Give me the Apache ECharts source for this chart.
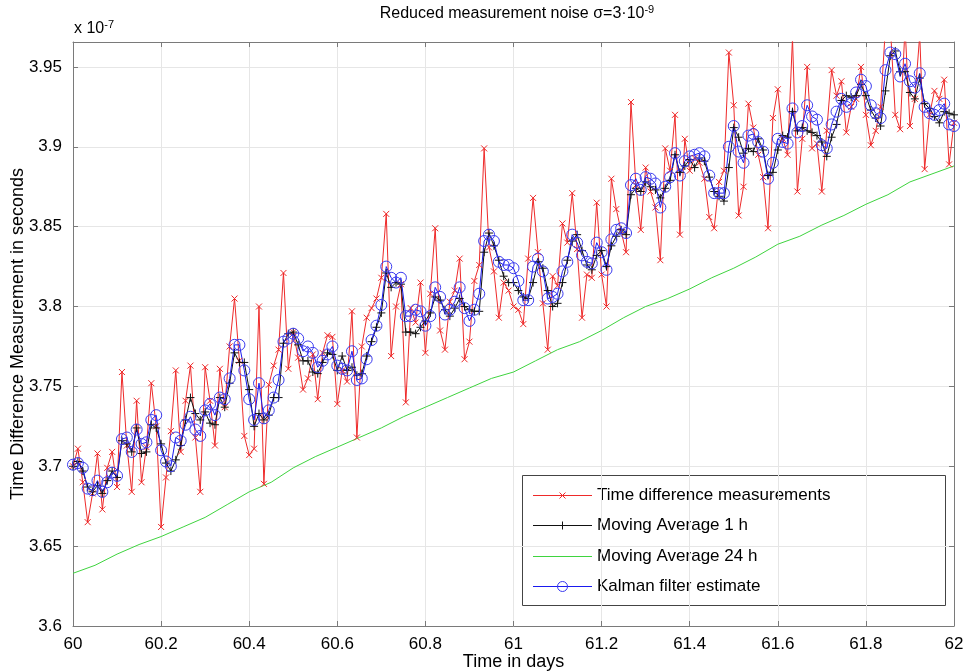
<!DOCTYPE html>
<html>
<head>
<meta charset="utf-8">
<script src="https://cdn.jsdelivr.net/npm/echarts@6/dist/echarts.min.js"></script>
<style>
html, body { margin: 0; padding: 0; background: #ffffff; }
#chart { width: 965px; height: 672px; }
</style>
</head>
<body>
<div id="chart"></div>
<script>
// Sampling grid of the 1-hour series: one sample every 16 minutes (1/90 day), day 60 to day 62
const T_START = 60;
const T_STEP = 1 / 90;

// Time difference measurements, in units of 1e-7 s
const measured = [
  3.700, 3.711, 3.690, 3.665, 3.683, 3.708, 3.673, 3.699, 3.709, 3.687,
  3.759, 3.713, 3.684, 3.741, 3.690, 3.712, 3.752, 3.725, 3.662, 3.693,
  3.722, 3.760, 3.709, 3.741, 3.763, 3.718, 3.684, 3.762, 3.741, 3.713,
  3.761, 3.737, 3.775, 3.805, 3.766, 3.719, 3.707, 3.711, 3.800, 3.689,
  3.751, 3.763, 3.773, 3.821, 3.761, 3.784, 3.768, 3.748, 3.755, 3.770,
  3.742, 3.771, 3.782, 3.781, 3.739, 3.760, 3.753, 3.797, 3.718, 3.775,
  3.793, 3.799, 3.805, 3.818, 3.858, 3.769, 3.800, 3.814, 3.740, 3.799,
  3.790, 3.815, 3.771, 3.808, 3.849, 3.785, 3.773, 3.803, 3.810, 3.830,
  3.767, 3.778, 3.816, 3.826, 3.899, 3.837, 3.822, 3.793, 3.815, 3.810,
  3.800, 3.798, 3.789, 3.830, 3.868, 3.834, 3.802, 3.773, 3.819, 3.813,
  3.852, 3.840, 3.871, 3.836, 3.793, 3.820, 3.818, 3.865, 3.820, 3.800,
  3.880, 3.861, 3.847, 3.834, 3.928, 3.876, 3.848, 3.887, 3.872, 3.862,
  3.829, 3.899, 3.885, 3.920, 3.845, 3.905, 3.885, 3.893, 3.890, 3.880,
  3.856, 3.849, 3.878, 3.885, 3.959, 3.926, 3.857, 3.875, 3.927, 3.912,
  3.895, 3.881, 3.849, 3.918, 3.936, 3.905, 3.895, 3.968, 3.872, 3.905,
  3.950, 3.899, 3.902, 3.872, 3.910, 3.948, 3.932, 3.941, 3.909, 3.925,
  3.930, 3.950, 3.920, 3.901, 3.910, 3.925, 3.975, 3.975, 3.920, 3.911,
  3.975, 3.913, 3.930, 3.970, 3.886, 3.920, 3.935, 3.930, 3.942, 3.889,
  3.915
];

// Moving average over 1 h
const movingAvg1h = [
  3.700, 3.703, 3.697, 3.687, 3.684, 3.688, 3.683, 3.691, 3.697, 3.693,
  3.716, 3.714, 3.709, 3.724, 3.708, 3.709, 3.726, 3.724, 3.714, 3.702,
  3.697, 3.704, 3.713, 3.729, 3.743, 3.733, 3.729, 3.734, 3.727, 3.726,
  3.743, 3.737, 3.752, 3.771, 3.765, 3.765, 3.748, 3.725, 3.733, 3.729,
  3.732, 3.743, 3.743, 3.777, 3.783, 3.784, 3.776, 3.766, 3.766, 3.759,
  3.758, 3.765, 3.771, 3.770, 3.760, 3.769, 3.760, 3.762, 3.757, 3.758,
  3.769, 3.778, 3.787, 3.796, 3.821, 3.812, 3.815, 3.814, 3.784, 3.784,
  3.783, 3.787, 3.791, 3.796, 3.806, 3.804, 3.798, 3.794, 3.799, 3.805,
  3.800, 3.798, 3.797, 3.797, 3.834, 3.846, 3.838, 3.829, 3.819, 3.815,
  3.815, 3.810, 3.806, 3.805, 3.815, 3.828, 3.824, 3.810, 3.800, 3.802,
  3.815, 3.829, 3.841, 3.845, 3.835, 3.826, 3.823, 3.832, 3.835, 3.825,
  3.838, 3.844, 3.848, 3.845, 3.870, 3.874, 3.872, 3.878, 3.875, 3.873,
  3.868, 3.874, 3.879, 3.895, 3.884, 3.888, 3.892, 3.887, 3.893, 3.891,
  3.881, 3.872, 3.869, 3.866, 3.887, 3.912, 3.906, 3.896, 3.899, 3.897,
  3.905, 3.898, 3.882, 3.884, 3.898, 3.907, 3.906, 3.922, 3.910, 3.912,
  3.910, 3.909, 3.907, 3.903, 3.894, 3.906, 3.914, 3.929, 3.932, 3.931,
  3.932, 3.939, 3.932, 3.923, 3.918, 3.913, 3.935, 3.957, 3.960, 3.947,
  3.947, 3.934, 3.930, 3.943, 3.927, 3.924, 3.919, 3.915, 3.922, 3.921,
  3.920
];

// Kalman filter estimate
const kalman = [
  3.701, 3.702, 3.699, 3.686, 3.685, 3.691, 3.684, 3.690, 3.696, 3.694,
  3.717, 3.718, 3.709, 3.723, 3.714, 3.715, 3.729, 3.732, 3.710, 3.703,
  3.700, 3.718, 3.716, 3.726, 3.731, 3.723, 3.719, 3.735, 3.739, 3.732,
  3.743, 3.742, 3.755, 3.776, 3.776, 3.760, 3.742, 3.729, 3.752, 3.730,
  3.735, 3.743, 3.754, 3.778, 3.780, 3.783, 3.780, 3.772, 3.775, 3.771,
  3.762, 3.766, 3.770, 3.775, 3.763, 3.761, 3.760, 3.772, 3.754, 3.755,
  3.767, 3.779, 3.788, 3.801, 3.825, 3.818, 3.815, 3.818, 3.794, 3.794,
  3.798, 3.797, 3.788, 3.794, 3.812, 3.806, 3.795, 3.798, 3.803, 3.812,
  3.799, 3.791, 3.798, 3.808, 3.841, 3.845, 3.841, 3.828, 3.826, 3.826,
  3.824, 3.816, 3.804, 3.804, 3.825, 3.830, 3.822, 3.805, 3.806, 3.808,
  3.822, 3.828, 3.845, 3.840, 3.832, 3.828, 3.827, 3.840, 3.834, 3.823,
  3.842, 3.848, 3.849, 3.846, 3.876, 3.880, 3.873, 3.881, 3.880, 3.877,
  3.862, 3.875, 3.881, 3.896, 3.882, 3.891, 3.894, 3.895, 3.896, 3.894,
  3.882, 3.871, 3.871, 3.871, 3.900, 3.913, 3.897, 3.890, 3.907, 3.908,
  3.903, 3.897, 3.880, 3.890, 3.905, 3.903, 3.902, 3.924, 3.909, 3.913,
  3.926, 3.919, 3.917, 3.901, 3.899, 3.914, 3.922, 3.930, 3.925, 3.927,
  3.934, 3.942, 3.938, 3.926, 3.921, 3.918, 3.948, 3.959, 3.958, 3.944,
  3.952, 3.941, 3.937, 3.946, 3.925, 3.921, 3.920, 3.923, 3.927, 3.914,
  3.913
];

// Moving average over 24 h, read every 0.05 day
const MA24_START = 60;
const MA24_STEP = 0.05;
const movingAvg24h = [
  3.633, 3.638, 3.645, 3.651, 3.656, 3.662, 3.668, 3.676, 3.684, 3.690,
  3.699, 3.706, 3.712, 3.718, 3.724, 3.731, 3.737, 3.743, 3.749, 3.755,
  3.759, 3.766, 3.773, 3.778, 3.785, 3.793, 3.800, 3.805, 3.811, 3.818,
  3.824, 3.831, 3.839, 3.844, 3.851, 3.857, 3.864, 3.870, 3.878, 3.883,
  3.888
];

// Axis tick labels
const xTickLabels = ['60', '60.2', '60.4', '60.6', '60.8', '61', '61.2', '61.4', '61.6', '61.8', '62'];
const yTickLabels = ['3.6', '3.65', '3.7', '3.75', '3.8', '3.85', '3.9', '3.95'];

const X_MIN = 60, X_MAX = 62, X_STEP = 0.2;
const Y_MIN = 3.6, Y_MAX = 3.9656, Y_STEP = 0.05;

const seriesNames = [
  'Time difference measurements',
  'Moving Average 1 h',
  'Moving Average 24 h',
  'Kalman filter estimate'
];
const seriesColors = ['#ee2a2a', '#111111', '#3fd43f', '#1a1aee'];
const markerColors = ['#ee2a2a', '#111111', null, '#3a3af0'];

const FONT = '"Liberation Sans", Arial, Helvetica, sans-serif';
const AXIS_GREY = '#7a7a7a';

const toPoints = (vals, start, step) => vals.map((v, i) => [start + i * step, v]);

function tickLabel(labels, min, step) {
  return function (v) {
    const k = Math.round((v - min) / step);
    if (Math.abs(v - (min + k * step)) > 1e-6) return '';
    return labels[k] !== undefined ? labels[k] : '';
  };
}

const CROSS = 'path://M0,0L10,10M10,0L0,10';
const PLUS = 'path://M5,0L5,10M0,5L10,5';

// Legend box drawn as graphic elements: sample line, marker and label per entry
function legendGraphic() {
  const box = { x: 522, y: 475, w: 423, h: 130 };
  const rows = [495.5, 525.5, 556.5, 586.5];
  const lx1 = 533, lx2 = 592, mx = 562.5, tx = 597;
  const children = [{
    type: 'rect',
    shape: { x: box.x + 0.5, y: box.y + 0.5, width: box.w, height: box.h },
    style: { fill: '#ffffff', stroke: '#444444', lineWidth: 1 }
  }];
  rows.forEach((y, i) => {
    children.push({
      type: 'line',
      shape: { x1: lx1, y1: y, x2: lx2, y2: y },
      style: { stroke: seriesColors[i], lineWidth: 1 }
    });
    const mc = markerColors[i];
    if (i === 0) {
      children.push({ type: 'line', shape: { x1: mx - 3, y1: y - 3, x2: mx + 3, y2: y + 3 }, style: { stroke: mc, lineWidth: 1 } });
      children.push({ type: 'line', shape: { x1: mx - 3, y1: y + 3, x2: mx + 3, y2: y - 3 }, style: { stroke: mc, lineWidth: 1 } });
    } else if (i === 1) {
      children.push({ type: 'line', shape: { x1: mx, y1: y - 4, x2: mx, y2: y + 4 }, style: { stroke: mc, lineWidth: 1 } });
    } else if (i === 3) {
      children.push({ type: 'circle', shape: { cx: mx, cy: y, r: 5 }, style: { fill: 'rgba(0,0,0,0)', stroke: mc, lineWidth: 1 } });
    }
    children.push({
      type: 'text',
      x: tx, y: y,
      style: { text: seriesNames[i], fontSize: 17, fontFamily: FONT, fill: '#000', align: 'left', verticalAlign: 'middle' }
    });
  });
  return { type: 'group', z: 100, children: children };
}

const chart = echarts.init(document.getElementById('chart'), null, { renderer: 'canvas' });

const baseAxis = {
  type: 'value',
  axisLine: { show: true, onZero: false, lineStyle: { color: AXIS_GREY, width: 1 } },
  axisTick: { show: true, inside: true, length: 5, lineStyle: { color: AXIS_GREY } },
  axisLabel: { show: false },
  splitLine: { show: false }
};

const option = {
  animation: false,
  backgroundColor: '#ffffff',
  textStyle: { fontFamily: FONT },
  grid: { left: 73, right: 11, top: 42, bottom: 46, containLabel: false, outerBoundsMode: 'none' },
  graphic: [
    {
      type: 'text',
      x: 517, y: 14,
      style: {
        text: '{m|Reduced measurement noise σ=3·10}{s|-9}',
        align: 'center', verticalAlign: 'middle',
        rich: {
          m: { fontSize: 16, fontFamily: FONT, color: '#000', lineHeight: 20 },
          s: { fontSize: 11, fontFamily: FONT, color: '#000', lineHeight: 10, verticalAlign: 'top' }
        }
      }
    },
    {
      type: 'text',
      x: 74, y: 29,
      style: {
        text: '{m|x 10}{s|-7}',
        align: 'left', verticalAlign: 'middle',
        rich: {
          m: { fontSize: 16, fontFamily: FONT, color: '#000', lineHeight: 20 },
          s: { fontSize: 11, fontFamily: FONT, color: '#000', lineHeight: 10, verticalAlign: 'top' }
        }
      }
    },
    legendGraphic()
  ],
  xAxis: [
    Object.assign({}, baseAxis, {
      position: 'bottom',
      min: X_MIN, max: X_MAX, interval: X_STEP,
      name: 'Time in days', nameLocation: 'middle', nameGap: 27, nameMoveOverlap: false,
      nameTextStyle: { fontSize: 18, fontFamily: FONT, color: '#000' },
      axisLabel: { show: true, margin: 10, fontSize: 17, fontFamily: FONT, color: '#000',
                   formatter: tickLabel(xTickLabels, X_MIN, X_STEP) },
      splitLine: { show: true, lineStyle: { color: '#e6e6e6', width: 1 } }
    }),
    Object.assign({}, baseAxis, {
      position: 'top',
      min: X_MIN, max: X_MAX, interval: X_STEP
    })
  ],
  yAxis: [
    Object.assign({}, baseAxis, {
      position: 'left',
      min: Y_MIN, max: Y_MAX, interval: Y_STEP,
      name: 'Time Difference Measurement in seconds', nameLocation: 'middle', nameGap: 46, nameMoveOverlap: false,
      nameTextStyle: { fontSize: 18, fontFamily: FONT, color: '#000' },
      axisLabel: { show: true, margin: 11, fontSize: 17, fontFamily: FONT, color: '#000',
                   formatter: tickLabel(yTickLabels, Y_MIN, Y_STEP) },
      splitLine: { show: true, lineStyle: { color: '#e6e6e6', width: 1 } }
    }),
    Object.assign({}, baseAxis, {
      position: 'right',
      min: Y_MIN, max: Y_MAX, interval: Y_STEP
    })
  ],
  series: [
    {
      name: seriesNames[0],
      type: 'line',
      xAxisIndex: 0, yAxisIndex: 0,
      data: toPoints(measured, T_START, T_STEP),
      clip: true,
      symbol: CROSS, symbolSize: 6,
      lineStyle: { color: seriesColors[0], width: 1 },
      itemStyle: { color: 'rgba(0,0,0,0)', borderColor: markerColors[0], borderWidth: 1 },
      emphasis: { disabled: true }
    },
    {
      name: seriesNames[1],
      type: 'line',
      xAxisIndex: 0, yAxisIndex: 0,
      data: toPoints(movingAvg1h, T_START, T_STEP),
      clip: true,
      symbol: PLUS, symbolSize: 8,
      lineStyle: { color: seriesColors[1], width: 1 },
      itemStyle: { color: 'rgba(0,0,0,0)', borderColor: markerColors[1], borderWidth: 1 },
      emphasis: { disabled: true }
    },
    {
      name: seriesNames[2],
      type: 'line',
      xAxisIndex: 0, yAxisIndex: 0,
      data: toPoints(movingAvg24h, MA24_START, MA24_STEP),
      clip: true,
      symbol: 'none',
      lineStyle: { color: seriesColors[2], width: 1 },
      emphasis: { disabled: true }
    },
    {
      name: seriesNames[3],
      type: 'line',
      xAxisIndex: 0, yAxisIndex: 0,
      data: toPoints(kalman, T_START, T_STEP),
      clip: true,
      symbol: 'circle', symbolSize: 11,
      lineStyle: { color: seriesColors[3], width: 1 },
      itemStyle: { color: 'rgba(0,0,0,0)', borderColor: markerColors[3], borderWidth: 1 },
      emphasis: { disabled: true }
    }
  ]
};

chart.setOption(option);
</script>
</body>
</html>
